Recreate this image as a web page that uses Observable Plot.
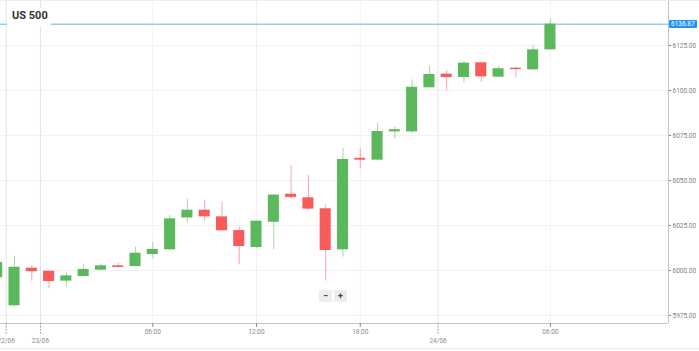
<!DOCTYPE html>
<html><head><meta charset="utf-8">
<script src="https://cdn.jsdelivr.net/npm/d3@7"></script>
<script src="https://cdn.jsdelivr.net/npm/@observablehq/plot@0.6"></script>
<style>
body{margin:0;background:#fff;font-family:Roboto,sans-serif}
#wrap{position:relative;width:699px;height:351px;overflow:hidden}
#title{position:absolute;left:7px;top:8px;height:18px;padding:0 3px 0 5px;background:#fff;font:bold 11px Roboto,sans-serif;color:#333;line-height:15px}
#price{position:absolute;height:8px;padding:0 2px;background:#2196f3;color:#fff;font:6.5px Roboto,sans-serif;line-height:8px;border-radius:1px}
#zoom{position:absolute;display:flex;gap:2px;font:bold 9px Roboto,sans-serif;color:#444}
#zoom div{width:13px;height:12px;background:#eee;text-align:center;line-height:12px}
.hl{position:absolute;left:0;width:699px;height:1px;background:#eee}
</style></head>
<body><div id="wrap"></div>
<script>
// candle index (hourly), OHLC values
const idx   = [0,1,2,3,4,5,6,7,8,9,10,11,12,13,14,15,16,17,18,19,20,21,22,23,24,25,26,27,28,29,30,31,32];
const open  = [5996,5980.4,6001.3,5999.6,5994.1,5996.7,6000.2,6002.6,6002.2,6008.9,6011.5,6029.2,6033.5,6029.8,6022.2,6012.8,6026.8,6042.4,6040.4,6034.3,6011.5,6062.3,6061.3,6077,6077,6101.5,6109.1,6107.2,6115.4,6107.4,6112.4,6111.5,6122.6];
const high  = [6006,6007.8,6002.8,5999.6,5998.7,6003.2,6003.7,6004.1,6013,6015.7,6030.6,6039.8,6038.9,6038,6024.1,6027.4,6042.2,6058.3,6052.8,6036.5,6067.9,6067.9,6081.8,6079.8,6105.9,6113.5,6111.1,6116.1,6115.4,6113.5,6112.6,6125,6139.4];
const low   = [5995,5980,5994,5989.8,5991.1,5996.5,6000,6001.5,6002,6006.5,6011.3,6026.5,6027.4,6021.5,6003.3,6012.2,6011.5,6039.8,6033.3,5994.1,6007.4,6056.5,6061,6072.8,6076,6101.5,6099.8,6103.9,6104.6,6107.4,6107,6111.5,6122.6];
const close = [6004.4,6001.8,5999.4,5993.9,5997.0,6000.6,6002.6,6001.7,6009.6,6011.7,6028.7,6033.5,6029.8,6022.1,6013.3,6027.4,6041.9,6040.6,6034.1,6011.1,6061.7,6061.3,6077.2,6078.2,6101.8,6108.9,6107.2,6115.2,6107.6,6112.1,6111.6,6122.6,6136.87];
const lastPrice = 6136.87;
const title = "US 500";
const yTicks = [5975,6000,6025,6050,6075,6100,6125];
const yGrid  = [5975,6000,6025,6050,6075,6100,6125,6150];
const timePos = [9,15,21,32];
const timeLabels = ["06:00","12:00","18:00","06:00"];
const datePos = [0.52,2.5,25.5];
const dateLabels = ["22/06","23/06","24/06"];
const xDomain = [0.19,38.83];
const yDomain = [5970.56,6150];

const G = "#5cb85c", R = "#f95b5b";
const candles = idx.map((i,k)=>({i, o:open[k], h:high[k], l:low[k], c:close[k]}));
const col = d => d.c >= d.o ? G : R;

const chart = Plot.plot({
  width:699, height:351,
  marginLeft:0, marginRight:31, marginTop:0, marginBottom:28,
  x:{type:"linear", domain:xDomain},
  y:{domain:yDomain},
  color:{type:"identity"},
  style:{fontFamily:"Roboto, sans-serif", background:"#fff"},
  marks:[
    Plot.gridY(yGrid, {stroke:"#f1f1f1", strokeOpacity:1}),
    Plot.gridX(timePos, {stroke:"#f1f1f1", strokeOpacity:1}),
    Plot.gridX(datePos, {stroke:"#e3e3e3", strokeOpacity:1}),
    Plot.ruleY([lastPrice], {stroke:"#93cdf5", strokeWidth:1.5}),
    Plot.ruleX(candles, {x:"i", y1:"l", y2:"h", stroke:col, strokeOpacity:0.55, clip:true}),
    Plot.rect(candles, {x1:d=>d.i-0.32, x2:d=>d.i+0.32, y1:"o", y2:"c", fill:col, clip:true}),
    Plot.ruleX([xDomain[1]], {stroke:"#c4c4c4"}),
    Plot.ruleY([yDomain[0]], {stroke:"#c4c4c4"}),
    Plot.axisY({anchor:"right", ticks:yTicks, tickFormat:d3.format(".2f"), tickSize:2, tickPadding:2, fontSize:6.5, color:"#808080", label:null}),
    Plot.axisX({ticks:timePos, tickFormat:d=>timeLabels[timePos.indexOf(d)], tickSize:4, tickPadding:2, fontSize:6.5, color:"#8a8a8a", label:null}),
    Plot.axisX({ticks:datePos, tickFormat:d=>dateLabels[datePos.indexOf(d)], tickSize:12, tickPadding:3, fontSize:6.5, color:"#8a8a8a", strokeDasharray:"1.5,1.5", label:null})
  ]
});
const wrap = document.getElementById("wrap");
wrap.appendChild(chart);

const t = document.createElement("div"); t.id="title"; t.textContent=title; wrap.appendChild(t);

const yS = chart.scale("y"), xS = chart.scale("x");
const p = document.createElement("div"); p.id="price"; p.textContent=lastPrice.toFixed(2);
p.style.left = (xS.apply(xDomain[1])+1)+"px";
p.style.top = (yS.apply(lastPrice)-4)+"px";
wrap.appendChild(p);

const z = document.createElement("div"); z.id="zoom";
z.innerHTML = "<div>\u2212</div><div>+</div>";
z.style.left = (xS.apply((xDomain[0]+xDomain[1])/2)-15)+"px";
z.style.top = "290px";
wrap.appendChild(z);

for (const top of [0,348]) { const h=document.createElement("div"); h.className="hl"; h.style.top=top+"px"; wrap.appendChild(h); }
</script>
</body></html>
